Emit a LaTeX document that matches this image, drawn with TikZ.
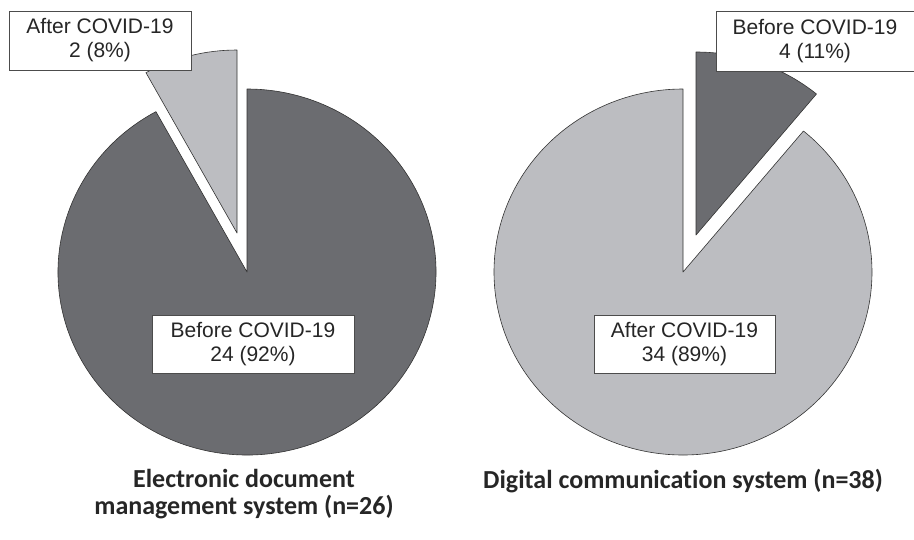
\documentclass[tikz,border=0pt]{standalone}
\usepackage{fontspec}
\setmainfont{Liberation Sans}
\newfontfamily\titolo[Ligatures=NoCommon]{Carlito}
\usepackage{xcolor}
\definecolor{scuro}{RGB}{107,108,112}
\definecolor{chiaro}{RGB}{188,189,193}
% Raggi delle torte
\def\rx{189}
\def\ry{183}
\tikzset{
    fetta/.style = {draw = black!80, line width = 0.6pt, line join = round},
    etichetta/.style = {draw = black!70, fill = white, line width = 0.8pt, text = black!85, align = center, inner sep = 0pt, font = \fontsize{21}{24}\selectfont},
    didascalia/.style = {align = center, text = black!85, font = \titolo\bfseries\fontsize{26}{27}\selectfont}
}

\begin{document}
\begin{tikzpicture}[x = 1pt, y = 1pt]
    \useasboundingbox (0,0) rectangle (914,-539);
    % Torta sinistra: prima del COVID-19 (92%)
    \filldraw[fetta, fill = scuro] (247,-272) -- ++({\rx*cos(118.8)},{\ry*sin(118.8)})
        arc[start angle = 118.8, end angle = 450, x radius = \rx, y radius = \ry] -- cycle;
    % Torta sinistra: dopo il COVID-19 (8%), staccata
    \filldraw[fetta, fill = chiaro] (237,-233) -- ++(0,\ry)
        arc[start angle = 90, end angle = 118.8, x radius = \rx, y radius = \ry] -- cycle;
    % Torta destra: dopo il COVID-19 (89%)
    \filldraw[fetta, fill = chiaro] (683,-272) -- ++(0,\ry)
        arc[start angle = 90, end angle = 410.4, x radius = \rx, y radius = \ry] -- cycle;
    % Torta destra: prima del COVID-19 (11%), staccata
    \filldraw[fetta, fill = scuro] (696,-235) -- ++({\rx*cos(50.4)},{\ry*sin(50.4)})
        arc[start angle = 50.4, end angle = 90, x radius = \rx, y radius = \ry] -- cycle;
    % Etichette
    \node[etichetta, minimum width = 182, minimum height = 59] (dopoSx) at (100,-40.5) {After COVID-19\\2 (8\%)};
    \node[etichetta, minimum width = 202, minimum height = 58] (primaSx) at (253,-344) {Before COVID-19\\24 (92\%)};
    \node[etichetta, minimum width = 198, minimum height = 60] (primaDx) at (815,-41) {Before COVID-19\\4 (11\%)};
    \node[etichetta, minimum width = 181, minimum height = 58] (dopoDx) at (684.5,-344) {After COVID-19\\34 (89\%)};
    % Titoli
    \node[didascalia] (titoloSx) at (244,-494) {Electronic document\\management system (n=26)};
    \node[didascalia] (titoloDx) at (683,-481) {Digital communication system (n=38)};
\end{tikzpicture}
\end{document}
